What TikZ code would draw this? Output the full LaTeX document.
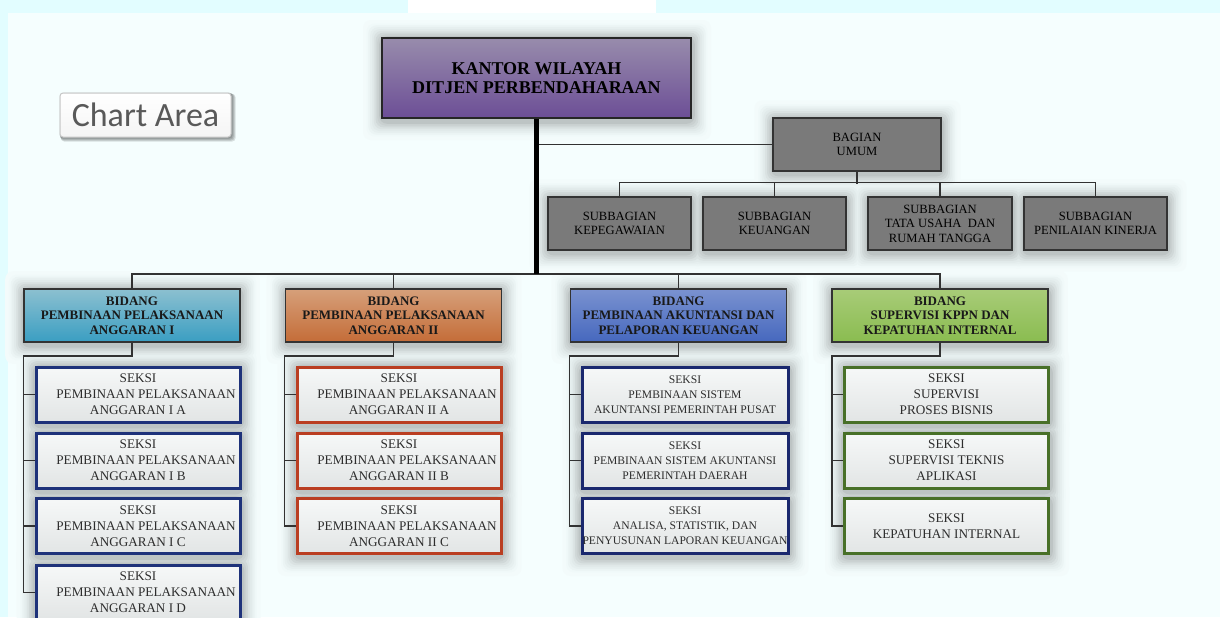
\documentclass[tikz,border=0pt]{standalone}
\usepackage{fontspec}
\setmainfont{Liberation Serif}
\newfontfamily\carlito{Carlito}
\usetikzlibrary{calc}
\pgfdeclarelayer{bg}
\pgfdeclarelayer{shadow}
\pgfsetlayers{bg,shadow,main}

\definecolor{bgcyan}{RGB}{226,253,255}
\definecolor{bgM}{RGB}{245,254,254}
\definecolor{linec}{RGB}{50,50,50}
\definecolor{topT}{RGB}{152,140,172}
\definecolor{topB}{RGB}{108,78,150}
\definecolor{greyfill}{RGB}{122,122,122}
\definecolor{b1T}{RGB}{140,192,208}
\definecolor{b1B}{RGB}{58,158,194}
\definecolor{b2T}{RGB}{214,160,122}
\definecolor{b2B}{RGB}{196,108,56}
\definecolor{b3T}{RGB}{122,146,208}
\definecolor{b3B}{RGB}{70,104,190}
\definecolor{b4T}{RGB}{168,204,120}
\definecolor{b4B}{RGB}{138,188,80}
\definecolor{k1c}{RGB}{30,50,122}
\definecolor{k2c}{RGB}{186,62,34}
\definecolor{k3c}{RGB}{26,40,110}
\definecolor{k4c}{RGB}{72,112,40}
\definecolor{kT}{RGB}{246,248,248}
\definecolor{kB}{RGB}{226,229,229}
\definecolor{seksitext}{RGB}{45,45,45}

\newcommand\chartshade[1]{%
  \begin{pgfonlayer}{shadow}
  \foreach \r in {0,...,3}{%
    \fill[black,opacity=0.12,rounded corners=2pt]
      ([shift={({0.2pt*\r},{-0.2pt*\r})}]#1.north west) rectangle
      ([shift={({0.5pt*\r+0.6pt},{-0.5pt*\r-0.6pt})}]#1.south east);
  }
  \end{pgfonlayer}}

\tikzset{
  conn/.style={draw=linec,line width=0.75pt},
  mainline/.style={draw=black,line width=2.5pt},
  topbox/.style={draw=black!85,line width=1pt,top color=topT,bottom color=topB,
    minimum width=154.5pt,minimum height=40pt,align=center,inner sep=0pt,
    font=\fontsize{9}{9.5}\selectfont\bfseries},
  greybox/.style={draw=black!80,line width=0.6pt,fill=greyfill,minimum height=26.5pt,
    align=center,inner sep=0pt,text=black,font=\fontsize{6.3}{7.2}\selectfont},
  bidbox/.style={draw=black!80,line width=0.8pt,minimum width=108pt,minimum height=26.5pt,
    align=center,inner sep=0pt,text=black!90,font=\fontsize{6.5}{7.25}\selectfont\bfseries},
  seksibox/.style={draw=#1,line width=1.5pt,top color=kT,bottom color=kB,
    minimum width=102pt,minimum height=27.5pt,align=center,inner sep=0pt,text=seksitext,
    font=\fontsize{6.6}{8}\selectfont},
  chartbox/.style={draw=black!22,line width=0.5pt,rounded corners=1.5pt,top color=white,bottom color=black!4,
    minimum width=85.5pt,minimum height=22pt,inner sep=0pt,text=black!65,font=\carlito\fontsize{17}{17}\selectfont}
}

\begin{document}
\begin{tikzpicture}[x=0.5pt,y=-0.5pt]
\useasboundingbox (0,0) rectangle (1220,617);
\clip (0,0) rectangle (1220,617);
% background
\begin{pgfonlayer}{bg}
\fill[bgM] (0,0) rectangle (1220,617);
\fill[bgcyan] (0,0) rectangle (1220,13);
\fill[white] (408,0) rectangle (656,13);
\fill[bgcyan] (0,0) rectangle (8,617);
\end{pgfonlayer}

% chart area label
\node[chartbox] (chart) at (145.5,115) {Chart Area};

% top
\node[topbox] (top) at (536.5,78) {KANTOR WILAYAH\\DITJEN PERBENDAHARAAN};

% bagian umum
\node[greybox,minimum width=84pt] (bag) at (857,144.5) {BAGIAN\\UMUM};
\node[greybox,minimum width=71.5pt] (s1) at (619.5,223.5) {SUBBAGIAN\\KEPEGAWAIAN};
\node[greybox,minimum width=71.5pt] (s2) at (774.5,223.5) {SUBBAGIAN\\KEUANGAN};
\node[greybox,minimum width=72pt] (s3) at (940,223.5) {SUBBAGIAN\\TATA USAHA\ \ DAN\\RUMAH TANGGA};
\node[greybox,minimum width=71.5pt] (s4) at (1095.5,223.5) {SUBBAGIAN\\PENILAIAN KINERJA};

% bidang
\node[bidbox,top color=b1T,bottom color=b1B] (b1) at (132,315.5) {BIDANG\\PEMBINAAN PELAKSANAAN\\ANGGARAN I};
\node[bidbox,top color=b2T,bottom color=b2B] (b2) at (393.5,315.5) {BIDANG\\PEMBINAAN PELAKSANAAN\\ANGGARAN II};
\node[bidbox,top color=b3T,bottom color=b3B] (b3) at (678.5,315.5) {BIDANG\\PEMBINAAN AKUNTANSI DAN\\PELAPORAN KEUANGAN};
\node[bidbox,top color=b4T,bottom color=b4B] (b4) at (940,315.5) {BIDANG\\SUPERVISI KPPN DAN\\KEPATUHAN INTERNAL};

% seksi column I
\node[seksibox=k1c] (k11) at (138,394.5) {SEKSI\\\hspace*{8pt}PEMBINAAN PELAKSANAAN\\ANGGARAN I A};
\node[seksibox=k1c] (k12) at (138,460.5) {SEKSI\\\hspace*{8pt}PEMBINAAN PELAKSANAAN\\ANGGARAN I B};
\node[seksibox=k1c] (k13) at (138,526) {SEKSI\\\hspace*{8pt}PEMBINAAN PELAKSANAAN\\ANGGARAN I C};
\node[seksibox=k1c] (k14) at (138,592.5) {SEKSI\\\hspace*{8pt}PEMBINAAN PELAKSANAAN\\ANGGARAN I D};
% seksi column II
\node[seksibox=k2c] (k21) at (399,394.5) {SEKSI\\\hspace*{8pt}PEMBINAAN PELAKSANAAN\\ANGGARAN II A};
\node[seksibox=k2c] (k22) at (399,460.5) {SEKSI\\\hspace*{8pt}PEMBINAAN PELAKSANAAN\\ANGGARAN II B};
\node[seksibox=k2c] (k23) at (399,526) {SEKSI\\\hspace*{8pt}PEMBINAAN PELAKSANAAN\\ANGGARAN II C};
% seksi column III
\node[seksibox=k3c,minimum width=103pt,font=\fontsize{5.8}{7.6}\selectfont] (k31) at (685,394.5) {SEKSI\\PEMBINAAN SISTEM\\AKUNTANSI PEMERINTAH PUSAT};
\node[seksibox=k3c,minimum width=103pt,font=\fontsize{5.8}{7.6}\selectfont] (k32) at (685,460.5) {SEKSI\\PEMBINAAN SISTEM AKUNTANSI\\PEMERINTAH DAERAH};
\node[seksibox=k3c,minimum width=103pt,font=\fontsize{5.8}{7.6}\selectfont] (k33) at (685,526) {SEKSI\\ANALISA, STATISTIK, DAN\\PENYUSUNAN LAPORAN KEUANGAN};
% seksi column IV
\node[seksibox=k4c] (k41) at (946.5,394.5) {SEKSI\\SUPERVISI\\PROSES BISNIS};
\node[seksibox=k4c] (k42) at (946.5,460.5) {SEKSI\\SUPERVISI TEKNIS\\APLIKASI};
\node[seksibox=k4c] (k43) at (946.5,526) {SEKSI\\KEPATUHAN INTERNAL};

% soft shadows (solid rings, drawn outermost first for all boxes, so overlaps do not darken)
\begin{pgfonlayer}{shadow}
\foreach \r in {10,...,1}{%
  \pgfmathtruncatemacro\q{100-0.22*(11-\r)*(11-\r)}
  \foreach \n in {top,bag,s1,s2,s3,s4,b1,b2,b3,b4,k11,k12,k13,k14,k21,k22,k23,k31,k32,k33,k41,k42,k43}{%
    \fill[bgM!\q!black,rounded corners=4pt]
      ([shift={({-0.9pt*\r},{0.9pt*\r-0.5pt})}]\n.north west) rectangle
      ([shift={({0.9pt*\r+0.5pt},{-0.9pt*\r-1.5pt})}]\n.south east);
  }
}
\end{pgfonlayer}
\chartshade{chart}

% connectors: top level
\path (b1.north) ++(0,-14) coordinate (busy);
\draw[conn] (b1.north) -- ++(0,-14) -| (b4.north);
\draw[conn] (b2.north) -- ++(0,-14);
\draw[conn] (b3.north) -- ++(0,-14);
\draw[conn] (top.south |- bag.west) -- (bag.west);
\draw[mainline] (top.south) -- (top.south |- busy);

% bagian umum
\draw[conn] (bag.south) -- ++(0,12);
\draw[conn] (s1.north) -- ++(0,-14) -| (s4.north);
\draw[conn] (s2.north) -- ++(0,-14);
\draw[conn] (s3.north) -- ++(0,-14);

% bidang to seksi
\draw[conn] (b1.south) -- ++(0,13) -| ([xshift=-5.5pt]k14.west) -- (k14.west);
\foreach \k in {k11,k12,k13} \draw[conn] ([xshift=-5.5pt]\k.west) -- (\k.west);
\draw[conn] (b2.south) -- ++(0,13) -| ([xshift=-5.5pt]k23.west) -- (k23.west);
\foreach \k in {k21,k22} \draw[conn] ([xshift=-5.5pt]\k.west) -- (\k.west);
\draw[conn] (b3.south) -- ++(0,13) -| ([xshift=-5.5pt]k33.west) -- (k33.west);
\foreach \k in {k31,k32} \draw[conn] ([xshift=-5.5pt]\k.west) -- (\k.west);
\draw[conn] (b4.south) -- ++(0,13) -| ([xshift=-5.5pt]k43.west) -- (k43.west);
\foreach \k in {k41,k42} \draw[conn] ([xshift=-5.5pt]\k.west) -- (\k.west);
\end{tikzpicture}
\end{document}
